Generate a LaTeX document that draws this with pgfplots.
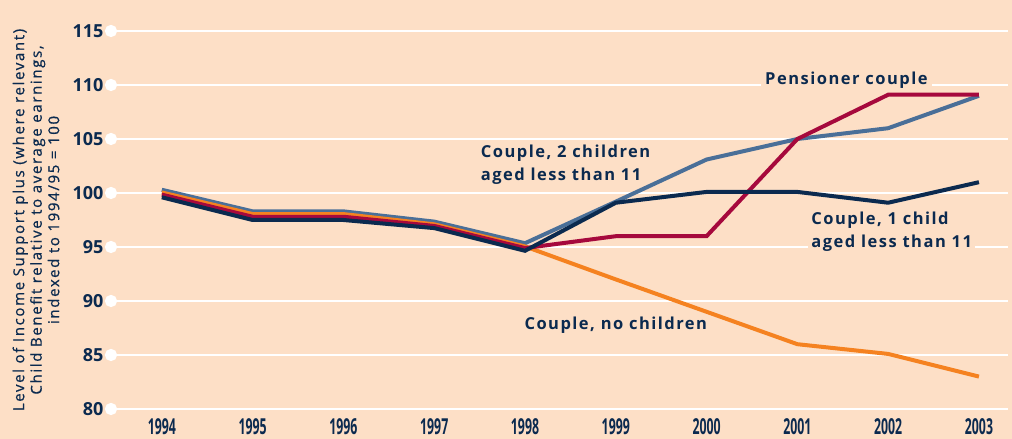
\documentclass[border=0pt]{standalone}
\usepackage{fontspec}
\setmainfont{Open Sans}
\newfontfamily\condfont[FakeStretch=0.56]{Open Sans}
\newfontfamily\lblfont[LetterSpace=11, FakeBold=0.6]{Open Sans}
\newfontfamily\annfont[LetterSpace=9]{Open Sans}
\usepackage{pgfplots}
\pgfplotsset{compat=1.18}
\definecolor{bg}{HTML}{FDDFC6}
\definecolor{navy}{HTML}{0B2A4F}
\definecolor{steel}{HTML}{4A6F98}
\definecolor{orng}{HTML}{F58220}
\definecolor{crim}{HTML}{A6093D}
\begin{document}
\begin{tikzpicture}
\fill[bg] (0,0) rectangle (1012pt,439pt);
\node[rotate=90, align=center, text=navy, font=\lblfont\fontsize{15}{17.5}\selectfont] at (36pt,219pt)
{Level of Income Support plus (where relevant)\\Child Benefit relative to average earnings,\\indexed to 1994/95 = 100};
\begin{axis}[
  at={(111pt,30pt)}, anchor=south west, scale only axis,
  width=897pt, height=378pt,
  xmin=1993.44, xmax=2003.32, ymin=80, ymax=115,
  axis line style={draw=none}, major tick length=0pt,
  ymajorgrids, grid style={white, line width=2pt},
  xtick={1994,1995,1996,1997,1998,1999,2000,2001,2002,2003},
  xticklabels={1994,1995,1996,1997,1998,1999,2000,2001,2002,2003},
  ytick={80,85,90,95,100,105,110,115},
  yticklabels={80,85,90,95,100,105,110,115},
  yticklabel style={font=\bfseries\fontsize{18}{20}\selectfont, text=navy, anchor=east, xshift=-4pt},
  xticklabel style={font=\condfont\bfseries\fontsize{22}{24}\selectfont, text=navy, anchor=base, yshift=-26pt},
  clip=false,
  every axis plot/.append style={line width=4pt, line join=miter, mark=none},
]
\addplot[only marks, mark=*, mark size=4pt, white, forget plot] coordinates {
(1993.44,80) (1993.44,85) (1993.44,90) (1993.44,95) (1993.44,100) (1993.44,105) (1993.44,110) (1993.44,115)};
% Couple, 2 children
\addplot[steel] coordinates {(1994,100.3) (1995,98.3) (1996,98.3) (1997,97.35) (1998,95.35) (1999,99.2) (2000,103.1) (2001,105) (2002,106) (2003,109)};
% Couple, no children
\addplot[orng] coordinates {(1994,100.05) (1995,98.05) (1996,98.05) (1997,97.1) (1998,95.05) (1999,92) (2000,89) (2001,86) (2002,85.1) (2003,83)};
% Pensioner couple
\addplot[crim] coordinates {(1994,99.85) (1995,97.8) (1996,97.8) (1997,96.95) (1998,94.9) (1999,96) (2000,96) (2001,105) (2002,109.1) (2003,109.1)};
% Couple, 1 child
\addplot[navy] coordinates {(1994,99.6) (1995,97.5) (1996,97.5) (1997,96.75) (1998,94.65) (1999,99.1) (2000,100.1) (2001,100.1) (2002,99.1) (2003,101)};
\node[fill=bg, text=navy, font=\annfont\bfseries\fontsize{16.5}{23}\selectfont, inner sep=4pt] at (axis cs:2001.54,110.45) {Pensioner couple};
\node[text=navy, font=\annfont\bfseries\fontsize{16.5}{23}\selectfont, inner sep=1pt, align=left, anchor=west] at (axis cs:1997.5,102.6) {Couple, 2 children\\aged less than 11};
\node[fill=bg, text=navy, font=\annfont\bfseries\fontsize{16.5}{23}\selectfont, inner sep=3pt, align=left, anchor=west] at (axis cs:2001.12,96.4) {Couple, 1 child\\aged less than 11};
\node[text=navy, font=\annfont\bfseries\fontsize{16.5}{23}\selectfont] at (axis cs:1999.0,87.8) {Couple, no children};
\end{axis}
\pgfresetboundingbox
\useasboundingbox (0,0) rectangle (1012pt,439pt);
\end{tikzpicture}
\end{document}
